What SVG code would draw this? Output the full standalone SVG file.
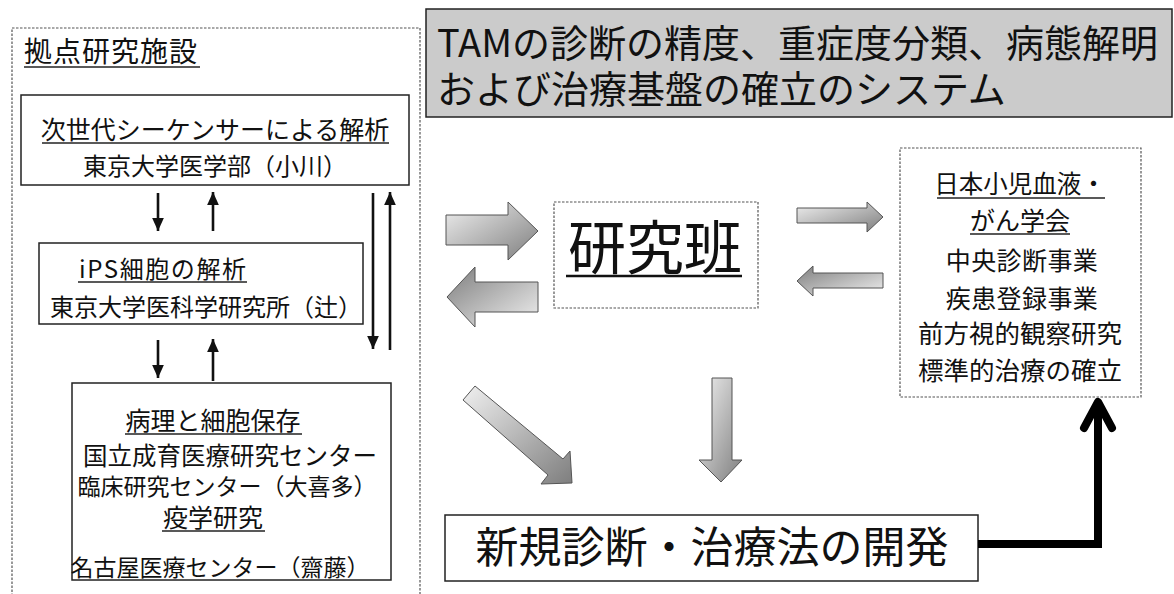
<svg xmlns="http://www.w3.org/2000/svg" width="1174" height="594" viewBox="0 0 1174 594">
<defs>
<style>
.t{font-family:"Noto Sans CJK JP","Liberation Sans",sans-serif;fill:#111;}
.c{text-anchor:middle;}
.box{fill:#fff;stroke:#222;stroke-width:1.5;}
.dot{fill:#fff;stroke:#555;stroke-width:1.2;stroke-dasharray:2.5 1.5;}
.ul{stroke:#222;stroke-width:1.6;}
.thin{stroke:#111;stroke-width:2.6;fill:none;}
.blk{stroke:#555;stroke-width:1;}
</style>
<marker id="ah" viewBox="0 0 10 10" refX="10" refY="5" markerUnits="userSpaceOnUse" markerWidth="13" markerHeight="13" orient="auto">
<path d="M0,0.5 L10,5 L0,9.5 z" fill="#111"/>
</marker>
<linearGradient id="gR" x1="0" y1="0" x2="1" y2="1">
<stop offset="0" stop-color="#f0f0f0"/><stop offset="1" stop-color="#7e7e7e"/>
</linearGradient>
<linearGradient id="gL" x1="1" y1="1" x2="0" y2="0">
<stop offset="0" stop-color="#f0f0f0"/><stop offset="1" stop-color="#7e7e7e"/>
</linearGradient>
</defs>
<rect width="1174" height="594" fill="#fff"/>

<g id="base-facilities">
<rect class="dot" x="12" y="28" width="408" height="580" fill="none"/>
<text class="t" x="24" y="62" font-size="28" letter-spacing="1">拠点研究施設</text>
<line class="ul" x1="24" y1="67" x2="200" y2="67"/>
</g>

<g id="node-sequencer">
<rect class="box" x="21" y="95" width="388" height="90"/>
<text class="t c" x="215" y="139" font-size="25">次世代シーケンサーによる解析</text>
<line class="ul" x1="42" y1="143" x2="389" y2="143"/>
<text class="t c" x="215" y="175" font-size="24">東京大学医学部（小川）</text>
</g>

<g id="node-ips">
<rect class="box" x="39" y="243" width="324" height="81"/>
<text class="t" x="79" y="278" font-size="24" textLength="167">iPS細胞の解析</text>
<line class="ul" x1="78" y1="282" x2="247" y2="282"/>
<text class="t" x="50" y="316" font-size="24">東京大学医科学研究所（辻）</text>
</g>

<g id="node-pathology">
<rect class="box" x="72" y="383" width="319" height="197"/>
<text class="t c" x="213" y="430" font-size="25">病理と細胞保存</text>
<line class="ul" x1="125" y1="434" x2="302" y2="434"/>
<text class="t c" x="230" y="465" font-size="24.5">国立成育医療研究センター</text>
<text class="t c" x="227" y="495" font-size="23">臨床研究センター（大喜多）</text>
<text class="t c" x="213" y="527" font-size="25">疫学研究</text>
<line class="ul" x1="162" y1="531" x2="265" y2="531"/>
<text class="t c" x="220" y="576" font-size="23">名古屋医療センター（齋藤）</text>
</g>

<g id="title">
<rect x="426" y="9" width="746" height="108" fill="#cbcbcb" stroke="#222" stroke-width="1.5"/>
<text class="t" x="437" y="57" font-size="38">TAMの診断の精度、重症度分類、病態解明</text>
<text class="t" x="437" y="103" font-size="38">および治療基盤の確立のシステム</text>
</g>

<g id="node-team">
<rect class="dot" x="554" y="202" width="204" height="106" stroke="#333"/>
<text class="t c" x="655" y="269" font-size="58">研究班</text>
<line x1="566" y1="276" x2="742" y2="276" stroke="#111" stroke-width="2.5"/>
</g>

<g id="node-society">
<rect class="dot" x="900" y="148" width="241" height="249" stroke="#333"/>
<text class="t c" x="1020" y="193" font-size="24.5">日本小児血液・</text>
<line class="ul" x1="937" y1="198" x2="1105" y2="198"/>
<text class="t c" x="1020" y="230" font-size="25">がん学会</text>
<line class="ul" x1="970" y1="234" x2="1070" y2="234"/>
<text class="t c" x="1022" y="270" font-size="25" letter-spacing="0.4">中央診断事業</text>
<text class="t c" x="1022" y="308" font-size="25" letter-spacing="0.4">疾患登録事業</text>
<text class="t c" x="1020" y="343" font-size="25.5">前方視的観察研究</text>
<text class="t c" x="1020" y="380" font-size="25.5">標準的治療の確立</text>
</g>

<g id="node-development">
<rect class="box" x="445" y="515" width="533" height="66"/>
<text class="t c" x="712" y="563" font-size="43">新規診断・治療法の開発</text>
</g>

<g id="connectors">
<line class="thin" x1="158" y1="193" x2="158" y2="231" marker-end="url(#ah)"/>
<line class="thin" x1="213" y1="231" x2="213" y2="192" marker-end="url(#ah)"/>
<line class="thin" x1="373" y1="193" x2="373" y2="349" marker-end="url(#ah)"/>
<line class="thin" x1="390" y1="350" x2="390" y2="192" marker-end="url(#ah)"/>
<line class="thin" x1="158" y1="340" x2="158" y2="378" marker-end="url(#ah)"/>
<line class="thin" x1="213" y1="381" x2="213" y2="339" marker-end="url(#ah)"/>

<polygon class="blk" fill="url(#gR)" points="446,215 508,215 508,202 538,231 508,260 508,245 446,245"/>
<polygon class="blk" fill="url(#gL)" points="538,282 475,282 475,267 447,297 475,327 475,312 538,312"/>
<polygon class="blk" fill="url(#gR)" points="797,208 867,208 867,202 883,217 867,232 867,223 797,223"/>
<polygon class="blk" fill="url(#gL)" points="883,273 813,273 813,266 797,281 813,296 813,288 883,288"/>
<polygon class="blk" fill="url(#gR)" points="475,386 563,459 570,451 572,483 541,484 548,475 463,400"/>
<polygon class="blk" fill="url(#gR)" points="712,378 732,378 732,460 742,460 721,482 699,460 712,460"/>

<polyline points="978,544 1098,544 1098,403" fill="none" stroke="#000" stroke-width="8" stroke-linejoin="miter"/>
<polyline points="1084,428 1098,402 1112,428" fill="none" stroke="#000" stroke-width="8" stroke-linecap="round" stroke-linejoin="round"/>
</g>
</svg>
